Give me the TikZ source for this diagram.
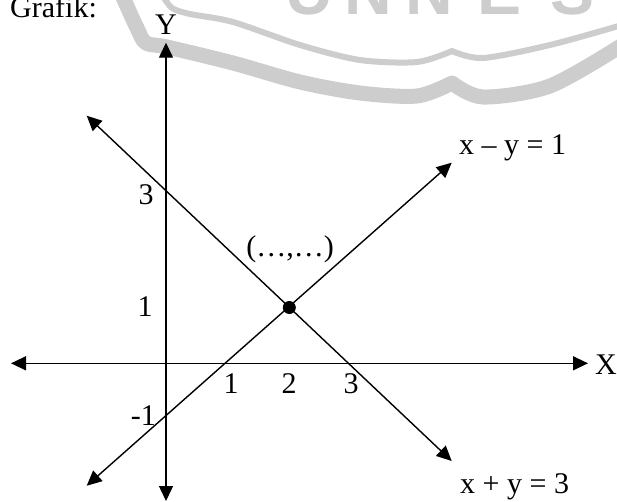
\documentclass[tikz,border=0pt]{standalone}
\usepackage{fontspec}
\setmainfont{Liberation Serif}
\newfontfamily\wmfont{Liberation Sans}
\usetikzlibrary{arrows.meta}
\definecolor{wmgray}{RGB}{205,205,205}
\tikzset{
  lbl/.style={inner sep=0pt, font=\fontsize{30}{36}\selectfont},
  wmletter/.style={inner sep=0pt, text=wmgray, font=\wmfont\bfseries\fontsize{66}{70}\selectfont, anchor=base},
  axisline/.style={line width=1.4pt, {Triangle[length=15pt,width=14pt]}-{Triangle[length=15pt,width=14pt]}},
  dotnode/.style={circle, fill=black, inner sep=0pt, minimum size=13pt},
}
\begin{document}
\begin{tikzpicture}[x=1pt, y=-1pt]
\useasboundingbox (0,0) rectangle (617,501);
% watermark
\node[wmletter] (wU) at (309,14) {U};
\node[wmletter] (wN1) at (368,14) {N};
\node[wmletter] (wN2) at (429,14) {N};
\node[wmletter] (wE) at (500,14) {E};
\node[wmletter] (wS) at (572,14) {S};
\draw[wmgray, line width=6pt, line join=round] plot[smooth, tension=0.5] coordinates {(163,-4) (172,8) (190,14) (233,22) (300,45) (360,60) (417,62) (452,51)}
  -- plot[smooth, tension=0.5] coordinates {(452,51) (483,58) (550,45) (622,25)};
\draw[wmgray, line width=15pt, line join=round] plot[smooth, tension=0.5] coordinates {(122,-5) (137,28) (146,43) (167,47) (233,63) (300,82) (360,93) (417,96) (452,83)}
  -- plot[smooth, tension=0.5] coordinates {(452,83) (483,97) (550,86) (624,44)};
% axes and lines
\coordinate (xl) at (11,363.3);
\coordinate (xr) at (588,363.3);
\coordinate (yt) at (166,42.7);
\coordinate (yb) at (166,501);
\coordinate (a1) at (86.7,115.7);
\coordinate (a2) at (451.7,461);
\coordinate (b1) at (86.7,485.7);
\coordinate (b2) at (451.7,162.7);
\draw[axisline] (xl) -- (xr);
\draw[axisline] (yb) -- (yt);
\draw[axisline] (a1) -- (a2);
\draw[axisline] (b1) -- (b2);
\node[dotnode] (p) at (289.3,307.5) {};
% labels
\node[lbl, anchor=base west] (graf) at (10,17.5) {Grafik:};
\node[lbl, anchor=base] (ylab) at (166,34) {Y};
\node[lbl, anchor=base west] (xlab) at (595,374) {X};
\node[lbl, anchor=base] (x1) at (231,393.3) {1};
\node[lbl, anchor=base] (x2) at (289,393.3) {2};
\node[lbl, anchor=base] (x3) at (351,393.3) {3};
\node[lbl, anchor=base] (y3) at (146,204) {3};
\node[lbl, anchor=base] (y1) at (145,316.7) {1};
\node[lbl, anchor=base east] (ym1) at (156,425) {-1};
\node[lbl, anchor=base] (pt) at (290,256.5) {(…,…)};
\node[lbl, anchor=base west] (eq1) at (459,154) {x – y = 1};
\node[lbl, anchor=base west] (eq2) at (460,493) {x + y = 3};
\end{tikzpicture}
\end{document}
